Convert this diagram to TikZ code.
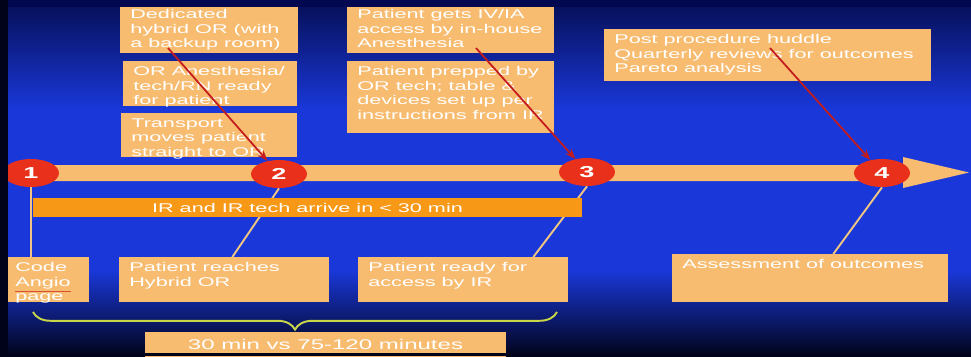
\documentclass[tikz,border=0pt]{standalone}
\usepackage{fontspec}
\setmainfont{Liberation Sans}[FakeStretch=1.71]
\usetikzlibrary{shapes.geometric,arrows.meta,decorations.pathreplacing}
\definecolor{boxfill}{RGB}{248,188,112}
\definecolor{barorange}{RGB}{247,152,22}
\definecolor{dotred}{RGB}{232,48,26}
\definecolor{arrred}{RGB}{196,28,28}
\definecolor{bracecol}{RGB}{200,214,72}
\definecolor{linecol}{RGB}{240,196,130}
\definecolor{navy}{RGB}{6,14,84}
\definecolor{topnavy}{RGB}{2,8,80}
\definecolor{midblue}{RGB}{26,56,218}
\definecolor{nearblack}{RGB}{1,3,26}
\definecolor{linkred}{RGB}{214,80,50}
\newcommand{\boxtxt}[3]{\parbox[t][#2][t]{#1}{\raggedright #3}}
\begin{document}
\begin{tikzpicture}[x=0.02cm,y=-0.02cm,
  box/.style={fill=boxfill,text=white,anchor=north west,inner xsep=0.2cm,inner ysep=0.1cm,font=\fontsize{7.2}{8.3}\selectfont},
  dot/.style={ellipse,fill=dotred,text=white,minimum width=1.12cm,minimum height=0.56cm,inner sep=0pt,font=\fontsize{9}{10}\selectfont\bfseries},
  redarr/.style={draw=arrred,line width=1pt,-{Stealth[length=6pt,width=4.5pt]}},
  conn/.style={draw=linecol,line width=1.1pt}]
\useasboundingbox (0,0) rectangle (971,356);
\shade[top color=navy,bottom color=midblue] (0,0) rectangle (971,110);
\fill[midblue] (0,110) rectangle (971,270);
\shade[top color=midblue,bottom color=nearblack] (0,270) rectangle (971,356);
\node[box] (hybrid) at (120,4) {\boxtxt{3.16cm}{0.78cm}{Dedicated\\hybrid OR (with\\a backup room)}};
\node[box] (anest) at (123,61) {\boxtxt{3.08cm}{0.70cm}{OR Anesthesia/\\tech/RN ready\\for patient}};
\node[box] (transport) at (121,113) {\boxtxt{3.12cm}{0.68cm}{Transport\\moves patient\\straight to OR}};
\node[box] (ivaccess) at (347,4) {\boxtxt{3.74cm}{0.78cm}{Patient gets IV/IA\\access by in-house\\Anesthesia}};
\node[box] (prepped) at (347,61) {\boxtxt{3.74cm}{1.24cm}{Patient prepped by\\OR tech; table \&\\devices set up per\\instructions from IR}};
\node[box] (huddle) at (604,29) {\boxtxt{6.14cm}{0.84cm}{Post procedure huddle\\Quarterly reviews for outcomes\\Pareto analysis}};
\node[box] (codepage) at (5,257) {\boxtxt{1.28cm}{0.70cm}{Code\\{\color{linkred}\underline{\textcolor{white}{Angio}}}\\page}};
\node[box] (reaches) at (119,257) {\boxtxt{3.8cm}{0.70cm}{Patient reaches\\Hybrid OR}};
\node[box] (ready) at (358,257) {\boxtxt{3.8cm}{0.70cm}{Patient ready for\\access by IR}};
\node[box] (assess) at (672,254) {\boxtxt{5.12cm}{0.76cm}{Assessment of outcomes}};
\fill[boxfill] (8,165) -- (903,165) -- (903,157) -- (969,172.5) -- (903,188) -- (903,181) -- (8,181) -- cycle;
\node[dot] (N1) at (31,173) {1};
\node[dot] (N2) at (279,174) {2};
\node[dot] (N3) at (587,172) {3};
\node[dot] (N4) at (882,173) {4};
\draw[conn] (N1.south) -- (N1.south |- codepage.north);
\draw[conn] (N2.south) -- ([xshift=0.16cm]reaches.north);
\draw[conn] (N3.south) -- ([xshift=1.4cm]ready.north);
\draw[conn] (N4.south) -- ([xshift=0.46cm]assess.north);
\node[fill=barorange,text=white,minimum width=10.98cm,minimum height=0.38cm,inner sep=0pt,font=\fontsize{7.2}{8.3}\selectfont] (irbar) at (307.5,207.5) {IR and IR tech arrive in \textless{} 30 min};
\coordinate (pHy) at (168,48);
\coordinate (pIv) at (476,48);
\coordinate (pHu) at (770,48);
\draw[redarr] (pHy) -- (N2);
\draw[redarr] (pIv) -- (N3);
\draw[redarr] (pHu) -- (N4);
\coordinate (bL) at (33,312);
\coordinate (bR) at (557,312);
\draw[bracecol,line width=1.1pt,decorate,decoration={brace,mirror,amplitude=10pt}] (bL) -- (bR);
\node[fill=boxfill,text=white,minimum width=7.22cm,minimum height=0.5cm,inner sep=0pt,font=\fontsize{8}{9}\selectfont] (compare) at (325.5,344.5) {30 min vs 75-120 minutes};
\fill[topnavy] (0,0) rectangle (971,7);
\fill[nearblack] (0,0) rectangle (8,356);
\fill[nearblack] (0,353) rectangle (971,356);
\end{tikzpicture}
\end{document}
